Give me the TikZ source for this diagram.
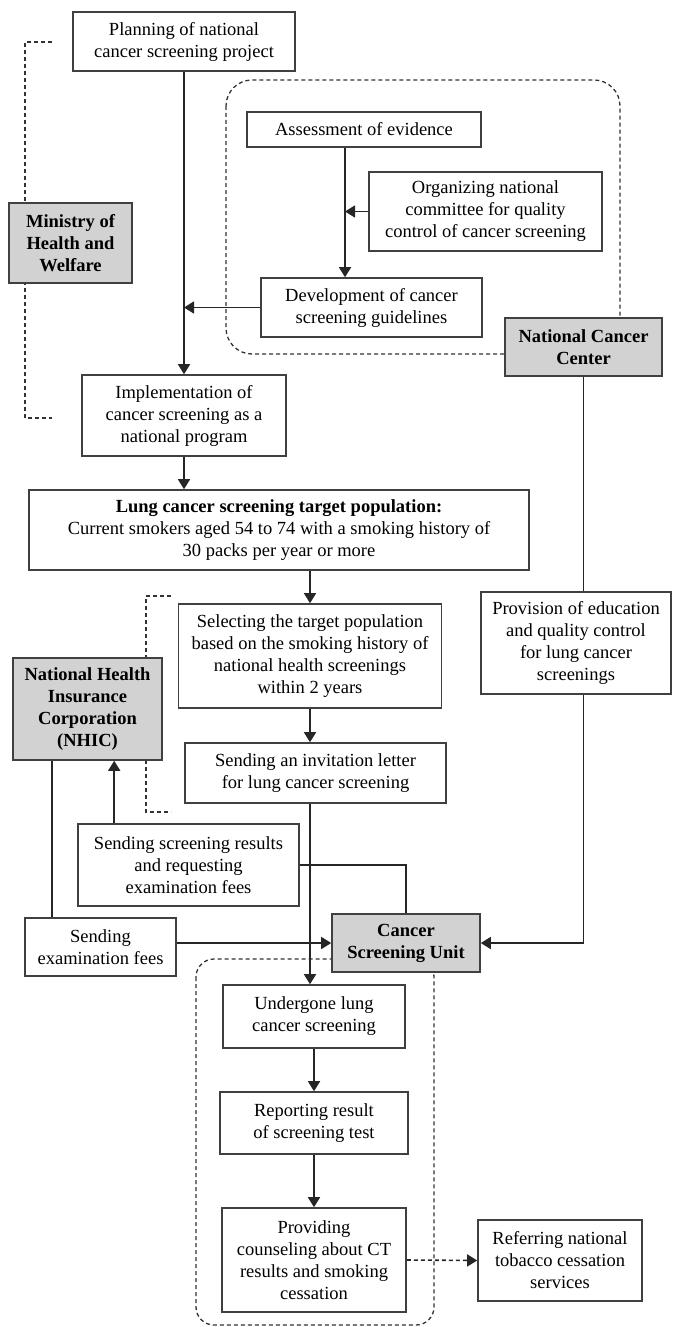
\documentclass[tikz,border=0pt]{standalone}
\usepackage{fontspec}
\setmainfont{Liberation Serif}
\usetikzlibrary{arrows.meta, calc, backgrounds}

\begin{document}
\begin{tikzpicture}[x=1pt, y=-1pt, >={Triangle[length=10pt,width=12pt]},
    line width=1.6pt,
    every node/.style={font=\fontsize{18.5}{22}\selectfont},
    box/.style={draw=black!75, fill=white, align=center, inner sep=0pt},
    agent/.style={box, fill=gray!35, font=\fontsize{18.5}{22}\selectfont\bfseries},
    flow/.style={->, draw=black!85},
    link/.style={draw=black!85},
    group/.style={draw=black!80, line width=1.3pt, dash pattern=on 4pt off 3pt}]
    \useasboundingbox (0,0) rectangle (674,1327);

    % Planning stage
    \node[box, minimum width=222, minimum height=59] (plan) at (184,41.5) {Planning of national\\cancer screening project};
    \node[agent, minimum width=123, minimum height=80] (ministry) at (70.5,243) {Ministry of\\Health and\\Welfare};
    \node[box, minimum width=234, minimum height=35] (assess) at (364,129.5) {Assessment of evidence};
    \node[box, minimum width=233, minimum height=79] (organ) at (485.5,211.5) {Organizing national\\committee for quality\\control of cancer screening};
    \node[box, minimum width=221, minimum height=59] (develop) at (371.5,307.5) {Development of cancer\\screening guidelines};
    \node[agent, minimum width=157, minimum height=58] (ncc) at (583.5,347) {National Cancer\\Center};
    \node[box, minimum width=204, minimum height=81] (impl) at (184,415.5) {Implementation of\\cancer screening as a\\national program};

    % Target population
    \node[box, minimum width=500, minimum height=80] (target) at (279,530) {\textbf{Lung cancer screening target population:}\\Current smokers aged 54 to 74 with a smoking history of\\30 packs per year or more};
    \node[box, minimum width=263, minimum height=104] (select) at (310,656) {Selecting the target population\\based on the smoking history of\\national health screenings\\within 2 years};
    \node[box, minimum width=190, minimum height=102] (provision) at (576,643) {Provision of education\\and quality control\\for lung cancer\\screenings};
    \node[agent, minimum width=149, minimum height=102] (nhic) at (87.5,709) {National Health\\Insurance\\Corporation\\(NHIC)};
    \node[box, minimum width=261, minimum height=60] (invite) at (315.5,773) {Sending an invitation letter\\for lung cancer screening};

    % Payment
    \node[box, minimum width=221, minimum height=82] (results) at (188.5,865) {Sending screening results\\and requesting\\examination fees};
    \node[box, minimum width=151, minimum height=58] (fees) at (100.5,947) {Sending\\examination fees};
    \node[agent, minimum width=148, minimum height=58] (csu) at (406,943) {Cancer\\Screening Unit};

    % Screening unit
    \node[box, minimum width=182, minimum height=63] (undergone) at (314,1016.5) {Undergone lung\\cancer screening};
    \node[box, minimum width=188, minimum height=62] (report) at (314,1123) {Reporting result\\of screening test};
    \node[box, minimum width=184, minimum height=104] (provide) at (314,1260) {Providing\\counseling about CT\\results and smoking\\cessation};
    \node[box, minimum width=164, minimum height=81] (refer) at (560,1260.5) {Referring national\\tobacco cessation\\services};

    % Dashed groups
    \begin{scope}[on background layer]
        \draw[group, rounded corners=26pt] (226,80) rectangle (620,354);
        \draw[group, rounded corners=18pt] (196,959) rectangle (434,1325);
        \draw[group] (52,42) -| (25,418) -- (52,418);
        \draw[group] (171,596) -| (146,812) -- (171,812);
    \end{scope}

    % Arrows
    \draw[flow] (plan.south) -- (impl.north);
    \draw[flow] (develop.west) -- (develop.west -| plan.south);
    \coordinate (ev) at ([xshift=-19pt]assess.south);
    \draw[flow] (ev) -- (ev |- develop.north);
    \draw[flow] (organ.west) -- (organ.west -| ev);
    \draw[flow] (impl.south) -- (impl.south |- target.north);
    \draw[flow] (select.north |- target.south) -- (select.north);
    \draw[flow] (select.south) -- (select.south |- invite.north);
    \draw[flow] (select.south |- invite.south) -- (select.south |- undergone.north);
    \draw[flow] (undergone.south) -- (report.north);
    \draw[flow] (report.south) -- (provide.north);
    \draw[flow, dash pattern=on 4pt off 3pt] (provide.east) -- (refer.west);

    \draw[link] (ncc.south) -- (ncc.south |- provision.north);
    \draw[flow] (ncc.south |- provision.south) |- (csu.east);
    \coordinate (up) at ([xshift=37pt]results.north west);
    \draw[flow] (up) -- (up |- nhic.south);
    \coordinate (pay) at ([xshift=28pt]fees.north west);
    \draw[link] (pay |- nhic.south) -- (pay);
    \draw[link] (results.east) -| (csu.north);
    \draw[flow] (csu.west -| fees.east) -- (csu.west);
\end{tikzpicture}
\end{document}
